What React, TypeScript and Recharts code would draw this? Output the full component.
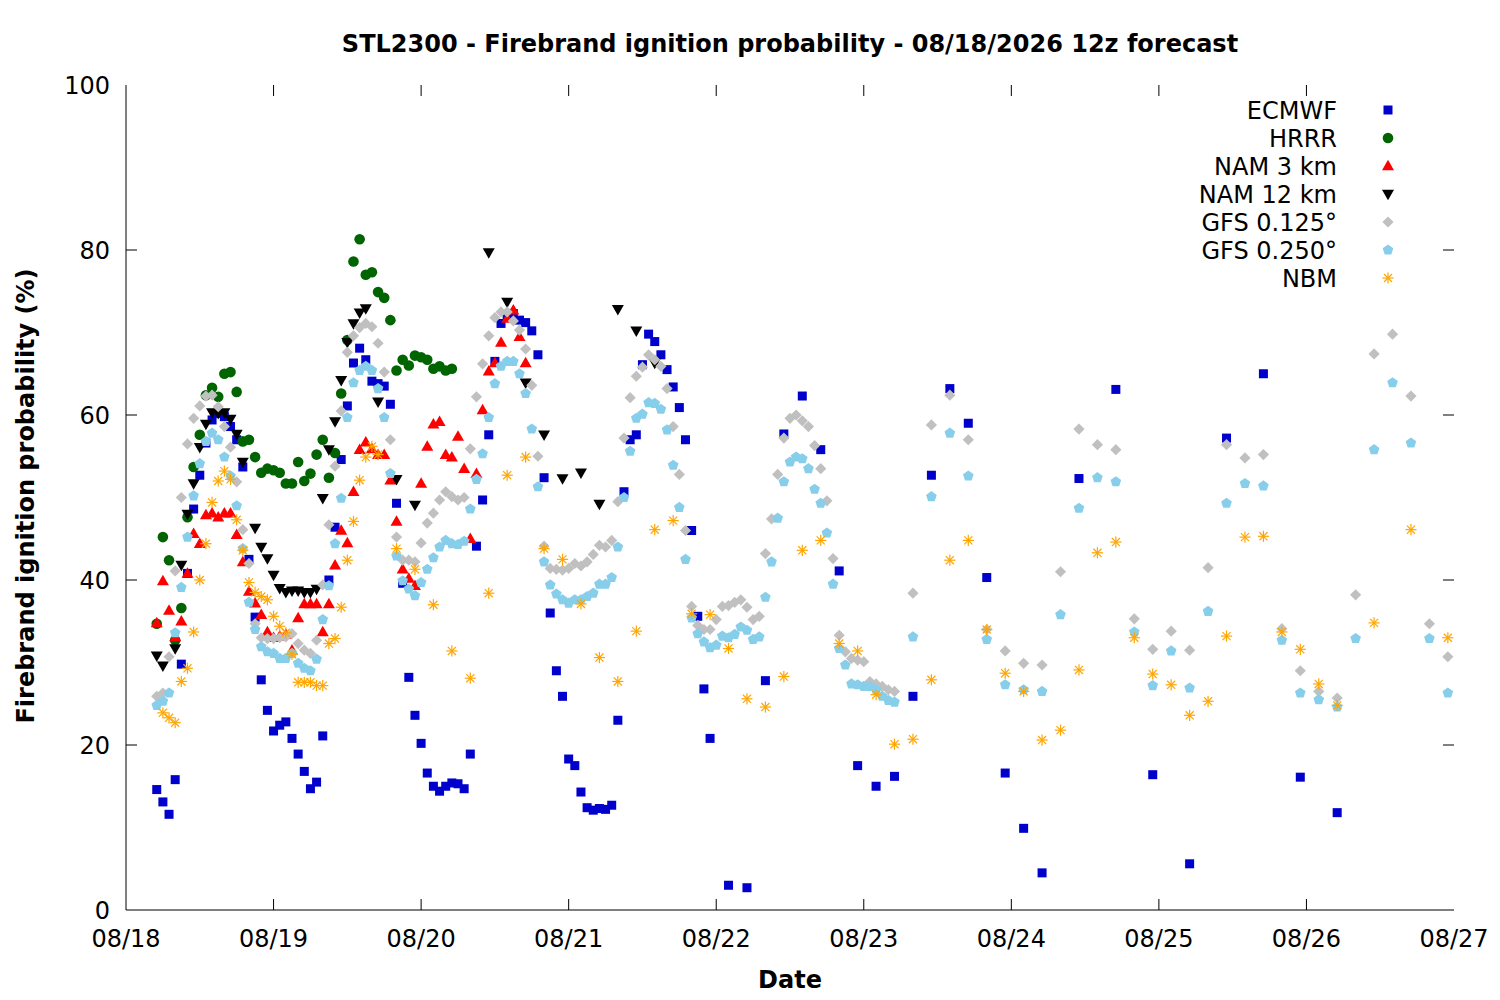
import React from 'react';
import { ScatterChart, Scatter, XAxis, YAxis, ReferenceLine } from 'recharts';

const FONT = '"DejaVu Sans", Verdana, sans-serif';
const FS = 24;

// x = hours since 08/18 00:00 (valid time); first forecast point at hour 5
const DATE_TICKS = [0, 24, 48, 72, 96, 120, 144, 168, 192, 216];
const DATE_LABELS = ['08/18', '08/19', '08/20', '08/21', '08/22', '08/23', '08/24', '08/25', '08/26', '08/27'];
const Y_TICKS = [0, 20, 40, 60, 80, 100];
const X_MAX = 216;
const Y_MAX = 100;

// ECMWF: hourly 5..95, 3-hourly 98..149, 6-hourly 155..197
const ECMWF_1H = [
  14.6, 13.1, 11.6, 15.8, 29.8, 40.8, 48.6, 52.7, 56.6, 59.4,
  60.2, 59.8, 58.6, 57.0, 53.7, 42.5, 35.5, 27.9, 24.2, 21.7,
  22.4, 22.8, 20.8, 18.9, 16.8, 14.7, 15.5, 21.1, 40.0, 46.4,
  54.6, 61.1, 66.3, 68.1, 66.7, 64.1, 63.8, 63.5, 61.3, 49.3,
  39.6, 28.2, 23.6, 20.2, 16.6, 15.0, 14.4, 15.0, 15.4, 15.3,
  14.7, 18.9, 44.1, 49.7, 57.6, 66.5, 71.1, 72.0, 72.3, 71.5,
  71.2, 70.2, 67.3, 52.4, 36.0, 29.0, 25.9, 18.3, 17.5, 14.3,
  12.4, 12.1, 12.3, 12.2, 12.7, 23.0, 50.7, 57.0, 57.6, 66.1,
  69.8, 68.9, 67.3, 65.5, 63.4, 60.9, 57.0, 46.0, 35.6, 26.8, 20.8,
];
const ECMWF_3H = [3.0, 2.7, 27.8, 57.7, 62.3, 55.8, 41.1, 17.5, 15.0, 16.2, 25.9, 52.7, 63.2, 59.0, 40.3, 16.6, 9.9, 4.5];
const ECMWF_6H = [52.3, 63.1, 16.4, 5.6, 57.2, 65.0, 16.1, 11.8];

// HRRR: hourly 5..53
const HRRR_1H = [
  34.7, 45.2, 42.4, 32.7, 36.6, 47.6, 53.7, 57.6, 62.4, 63.3,
  62.2, 65.0, 65.2, 62.8, 56.8, 57.0, 54.9, 53.0, 53.5, 53.3,
  53.0, 51.7, 51.7, 54.3, 52.0, 52.9, 55.2, 57.0, 52.4, 55.4,
  62.6, 69.1, 78.6, 81.3, 77.0, 77.3, 74.9, 74.2, 71.5, 65.4,
  66.7, 66.0, 67.2, 67.0, 66.7, 65.6, 65.9, 65.4, 65.6,
];

// NAM 3 km: hourly 5..65
const NAM3_1H = [
  34.8, 39.9, 36.3, 33.1, 35.0, 40.8, 45.6, 44.4, 47.9, 48.1,
  47.6, 48.1, 48.1, 45.5, 42.2, 38.6, 37.2, 35.8, 33.7, 33.0,
  33.2, 33.4, 31.5, 35.4, 37.1, 37.1, 37.1, 33.7, 37.1, 41.8,
  46.0, 44.5, 50.7, 55.8, 56.7, 55.9, 55.2, 55.2, 52.1, 47.1,
  41.3, 40.2, 39.3, 51.7, 56.2, 58.9, 59.2, 55.2, 54.9, 57.4,
  53.5, 45.0, 52.9, 60.6, 65.3, 66.3, 68.8, 71.7, 72.7, 69.5, 66.3,
];

// NAM 12 km: hourly 5..41, 3-hourly 44..86 (null = not visible)
const NAM12_1H = [
  30.8, 29.6, null, 31.7, 41.8, 48.0, 51.7, 56.1, 58.9, 60.3,
  60.2, 60.3, 59.5, 57.7, 54.3, null, 46.3, 44.0, 42.6, 40.6,
  39.0, 38.5, 38.7, 38.7, 38.5, 38.5, 38.9, 49.9, 55.8, 59.2,
  64.2, 68.8, 71.1, 72.4, 72.9, null, 61.6,
];
const NAM12_3H = [52.2, 49.1, null, null, null, 79.7, 73.7, 63.9, 57.6, 52.3, 53.0, 49.2, 72.8, 70.2, 66.3];

// GFS 0.125°: hourly 5..125, 3-hourly 128..215
const GFS125_1H = [
  25.9, 26.3, 30.7, 41.1, 50.0, 56.5, 59.6, 61.1, 62.3, 62.4,
  61.0, 58.6, 56.1, 51.9, 46.1, 42.0, 34.7, 33.0, 32.9, 32.9,
  33.0, 33.1, 33.5, 32.3, 31.5, 31.1, 32.7, 39.4, 46.7, 53.8,
  60.5, 67.6, 69.6, 70.6, 71.1, 70.7, 68.7, 65.2, 57.0, 45.2,
  42.4, 42.4, 42.2, 44.5, 46.9, 48.1, 49.7, 50.7, 50.1, 49.7,
  50.0, 55.9, 62.2, 66.2, 69.6, 71.8, 72.5, 72.5, 71.4, 70.3,
  68.0, 63.6, 55.0, 44.1, 41.4, 41.3, 41.2, 41.4, 42.0, 41.7,
  42.2, 43.1, 44.2, 44.0, 44.8, 49.5, 57.2, 62.1, 64.7, 65.8,
  67.3, 66.7, 65.9, 63.2, 58.6, 52.8, 46.0, 36.8, 34.5, 34.0,
  34.0, 35.2, 36.8, 36.9, 37.3, 37.6, 36.7, 35.2, 35.6, 43.2,
  47.4, 52.8, 57.2, 59.6, 60.0, 59.3, 58.6, 56.3, 53.5, 49.6,
  42.6, 33.3, 31.3, 30.5, 30.3, 30.1, 27.7, 27.4, 27.1, 26.7, 26.5,
];
const GFS125_3H = [
  38.4, 58.8, 62.4, 57.0, 34.0, 31.4, 29.9, 29.7, 41.0, 58.3,
  56.4, 55.8, 35.3, 31.6, 33.8, 31.5, 41.5, 56.4, 54.8, 55.2,
  34.1, 29.0, 26.5, 25.7, 38.2, 67.4, 69.8, 62.3, 34.7, 30.7,
];

// GFS 0.250°: hourly 5..125, 3-hourly 128..215
const GFS250_1H = [
  24.8, 25.3, 26.3, 33.6, 39.1, 45.2, 50.2, 54.1, 56.8, 57.8,
  57.0, 54.9, 52.6, 49.0, 43.8, 37.3, 34.0, 31.9, 31.3, 31.1,
  30.5, 30.5, 31.1, 29.9, 29.3, 29.0, 30.4, 35.2, 39.3, 44.4,
  49.9, 59.7, 63.9, 65.4, 65.9, 65.4, 63.2, 59.7, 52.9, 42.9,
  39.9, 38.9, 38.1, 39.7, 41.3, 42.7, 44.0, 44.8, 44.4, 44.3,
  44.7, 48.6, 52.2, 55.3, 59.7, 63.8, 65.9, 66.5, 66.5, 65.0,
  62.6, 58.3, 51.3, 42.2, 39.4, 38.3, 37.6, 37.2, 37.6, 37.6,
  38.0, 38.4, 39.5, 39.5, 40.3, 44.0, 50.0, 55.6, 59.6, 60.1,
  61.5, 61.4, 60.7, 58.2, 53.9, 48.8, 42.5, 35.4, 33.5, 32.5,
  31.8, 32.1, 33.2, 33.0, 33.4, 34.3, 33.9, 32.8, 33.1, 37.9,
  42.2, 47.5, 51.9, 54.3, 54.9, 54.7, 53.5, 51.0, 49.3, 45.7,
  39.5, 31.7, 29.7, 27.4, 27.3, 27.1, 27.1, 26.7, 25.9, 25.4, 25.2,
];
const GFS250_3H = [
  33.1, 50.1, 57.8, 52.6, 32.8, 27.3, 26.7, 26.5, 35.8, 48.7,
  52.4, 51.9, 33.7, 27.2, 31.4, 26.9, 36.2, 49.3, 51.7, 51.4,
  32.7, 26.3, 25.5, 24.6, 32.9, 55.8, 63.9, 56.6, 32.9, 26.3,
];

// NBM: hourly 5..41, 3-hourly 44..197, 6-hourly 203..215
const NBM_1H = [
  null, 23.9, 23.3, 22.7, 27.7, 29.3, 33.7, 40.0, 44.4, 49.4,
  52.0, 53.2, 52.2, 47.3, 43.6, 39.7, 38.5, 38.0, 37.6, 35.6,
  34.4, 33.6, 31.0, 27.6, 27.6, 27.6, 27.2, 27.2, 32.3, 32.9,
  36.7, 42.4, 47.1, 52.1, 54.9, 56.2, 55.2,
];
const NBM_3H = [
  43.8, 41.3, 37.0, 31.4, 28.1, 38.4, 52.7, 54.9, 43.8, 42.5,
  37.1, 30.6, 27.7, 33.8, 46.1, 47.2, 35.9, 35.8, 31.7, 25.6,
  24.6, 28.3, 43.6, 44.8, 32.3, 31.4, 26.1, 20.1, 20.7, 27.9,
  42.4, 44.8, 34.0, 28.7, 26.5, 20.6, 21.8, 29.1, 43.3, 44.6,
  33.0, 28.6, 27.3, 23.6, 25.3, 33.2, 45.2, 45.3, 33.7, 31.6,
  27.4, 24.8,
];
const NBM_6H = [34.8, 46.1, 33.0];

type Pt = { h: number; v: number };
const seg = (start: number, step: number, values: (number | null)[]): Pt[] => {
  const out: Pt[] = [];
  values.forEach((v, i) => {
    if (v !== null) out.push({ h: start + i * step, v });
  });
  return out;
};

type Kind = 'square' | 'circle' | 'tri' | 'tridown' | 'diamond' | 'pentagon' | 'star';

const SERIES: { name: string; color: string; kind: Kind; data: Pt[] }[] = [
  { name: 'ECMWF', color: '#0000cc', kind: 'square', data: [...seg(5, 1, ECMWF_1H), ...seg(98, 3, ECMWF_3H), ...seg(155, 6, ECMWF_6H)] },
  { name: 'HRRR', color: '#006400', kind: 'circle', data: seg(5, 1, HRRR_1H) },
  { name: 'NAM 3 km', color: '#ff0000', kind: 'tri', data: seg(5, 1, NAM3_1H) },
  { name: 'NAM 12 km', color: '#000000', kind: 'tridown', data: [...seg(5, 1, NAM12_1H), ...seg(44, 3, NAM12_3H)] },
  { name: 'GFS 0.125°', color: '#c0c0c0', kind: 'diamond', data: [...seg(5, 1, GFS125_1H), ...seg(128, 3, GFS125_3H)] },
  { name: 'GFS 0.250°', color: '#87ceeb', kind: 'pentagon', data: [...seg(5, 1, GFS250_1H), ...seg(128, 3, GFS250_3H)] },
  { name: 'NBM', color: '#ffa500', kind: 'star', data: [...seg(5, 1, NBM_1H), ...seg(44, 3, NBM_3H), ...seg(203, 6, NBM_6H)] },
];

const Marker = ({ cx, cy, kind, color }: { cx: number; cy: number; kind: Kind; color: string }) => {
  if (cx == null || cy == null || isNaN(cx) || isNaN(cy)) return null;
  switch (kind) {
    case 'square':
      return <rect x={cx - 4.5} y={cy - 4.5} width={9} height={9} fill={color} />;
    case 'circle':
      return <circle cx={cx} cy={cy} r={5.3} fill={color} />;
    case 'tri':
      return <polygon points={`${cx},${cy - 6.2} ${cx + 6},${cy + 4.3} ${cx - 6},${cy + 4.3}`} fill={color} />;
    case 'tridown':
      return <polygon points={`${cx},${cy + 6.2} ${cx + 6},${cy - 4.3} ${cx - 6},${cy - 4.3}`} fill={color} />;
    case 'diamond':
      return <polygon points={`${cx},${cy - 5.6} ${cx + 5.6},${cy} ${cx},${cy + 5.6} ${cx - 5.6},${cy}`} fill={color} />;
    case 'pentagon': {
      const r = 5.6;
      const pts = [0, 1, 2, 3, 4]
        .map((i) => {
          const a = -Math.PI / 2 + (i * 2 * Math.PI) / 5;
          return `${cx + r * Math.cos(a)},${cy + r * Math.sin(a)}`;
        })
        .join(' ');
      return <polygon points={pts} fill={color} />;
    }
    case 'star': {
      const r = 5.6;
      const d = r * 0.72;
      return (
        <g stroke={color} strokeWidth={1.2}>
          <line x1={cx - r} y1={cy} x2={cx + r} y2={cy} />
          <line x1={cx} y1={cy - r} x2={cx} y2={cy + r} />
          <line x1={cx - d} y1={cy - d} x2={cx + d} y2={cy + d} />
          <line x1={cx - d} y1={cy + d} x2={cx + d} y2={cy - d} />
        </g>
      );
    }
  }
  return null;
};

// Inward tick length (~11 px) expressed in data units of each axis
const TICK_X = 1.79; // hours
const TICK_Y = 1.33; // percent

const BottomLabel = (p: any) => {
  const idx = DATE_TICKS.indexOf(p.payload.value);
  return (
    <text x={p.x} y={p.y + 17} textAnchor="middle" fontSize={FS} fontFamily={FONT} fill="#000">
      {idx >= 0 ? DATE_LABELS[idx] : ''}
    </text>
  );
};
const LeftLabel = (p: any) => (
  <text x={p.x} y={p.y + 8.5} textAnchor="end" fontSize={FS} fontFamily={FONT} fill="#000">
    {p.payload.value}
  </text>
);

const axisLine = { stroke: '#000', strokeWidth: 1 };

export default function App() {
  return (
    <div style={{ position: 'absolute', left: 0, top: 0, width: 1500, height: 1000, background: '#fff' }}>
      <ScatterChart width={1500} height={1000} margin={{ top: 85, right: 46, bottom: 0, left: 0 }}>
        <XAxis
          xAxisId="b"
          dataKey="h"
          type="number"
          domain={[0, X_MAX]}
          allowDataOverflow
          ticks={DATE_TICKS}
          interval={0}
          height={90}
          tickSize={0}
          tickMargin={20}
          axisLine={axisLine}
          tickLine={false}
          tick={(p: any) => <BottomLabel {...p} />}
        />
        <XAxis
          xAxisId="t"
          orientation="top"
          type="number"
          domain={[0, X_MAX]}
          allowDataOverflow
          ticks={DATE_TICKS}
          height={0}
          axisLine={axisLine}
          tickLine={false}
          tick={false}
        />
        <YAxis
          yAxisId="l"
          dataKey="v"
          type="number"
          domain={[0, Y_MAX]}
          allowDataOverflow
          ticks={Y_TICKS}
          interval={0}
          width={126}
          tickSize={0}
          tickMargin={16}
          axisLine={axisLine}
          tickLine={false}
          tick={(p: any) => <LeftLabel {...p} />}
        />
        <YAxis
          yAxisId="r"
          orientation="right"
          type="number"
          domain={[0, Y_MAX]}
          allowDataOverflow
          ticks={Y_TICKS}
          width={0}
          axisLine={axisLine}
          tickLine={false}
          tick={false}
        />
        {/* inward tick marks on all four sides */}
        {Y_TICKS.filter((t) => t > 0 && t < Y_MAX).map((t) => (
          <ReferenceLine
            key={`yl${t}`}
            xAxisId="b"
            yAxisId="l"
            segment={[{ x: 0, y: t }, { x: TICK_X, y: t }]}
            stroke="#000"
            strokeWidth={1}
            ifOverflow="visible"
          />
        ))}
        {Y_TICKS.filter((t) => t > 0 && t < Y_MAX).map((t) => (
          <ReferenceLine
            key={`yr${t}`}
            xAxisId="b"
            yAxisId="l"
            segment={[{ x: X_MAX - TICK_X, y: t }, { x: X_MAX, y: t }]}
            stroke="#000"
            strokeWidth={1}
            ifOverflow="visible"
          />
        ))}
        {DATE_TICKS.filter((t) => t > 0 && t < X_MAX).map((t) => (
          <ReferenceLine
            key={`xb${t}`}
            xAxisId="b"
            yAxisId="l"
            segment={[{ x: t, y: 0 }, { x: t, y: TICK_Y }]}
            stroke="#000"
            strokeWidth={1}
            ifOverflow="visible"
          />
        ))}
        {DATE_TICKS.filter((t) => t > 0 && t < X_MAX).map((t) => (
          <ReferenceLine
            key={`xt${t}`}
            xAxisId="b"
            yAxisId="l"
            segment={[{ x: t, y: Y_MAX - TICK_Y }, { x: t, y: Y_MAX }]}
            stroke="#000"
            strokeWidth={1}
            ifOverflow="visible"
          />
        ))}
        {SERIES.map((s) => (
          <Scatter
            key={s.name}
            name={s.name}
            xAxisId="b"
            yAxisId="l"
            data={s.data}
            isAnimationActive={false}
            shape={(p: any) => <Marker cx={p.cx} cy={p.cy} kind={s.kind} color={s.color} />}
          />
        ))}
      </ScatterChart>
      <svg
        width={1500}
        height={1000}
        style={{ position: 'absolute', left: 0, top: 0, pointerEvents: 'none' }}
        fontFamily={FONT}
      >
        <text x={790} y={52} textAnchor="middle" fontSize={FS} fontWeight="bold" fill="#000">
          STL2300 - Firebrand ignition probability - 08/18/2026 12z forecast
        </text>
        <text x={790} y={988} textAnchor="middle" fontSize={FS} fontWeight="bold" fill="#000">
          Date
        </text>
        <text
          transform="translate(34,496) rotate(-90)"
          textAnchor="middle"
          fontSize={FS}
          fontWeight="bold"
          fill="#000"
        >
          Firebrand ignition probability (%)
        </text>
        {SERIES.map((s, i) => {
          const cy = 110 + i * 28;
          return (
            <g key={s.name}>
              <text x={1337} y={cy + 8.5} textAnchor="end" fontSize={FS} fill="#000">
                {s.name}
              </text>
              <Marker cx={1388} cy={cy} kind={s.kind} color={s.color} />
            </g>
          );
        })}
      </svg>
    </div>
  );
}
